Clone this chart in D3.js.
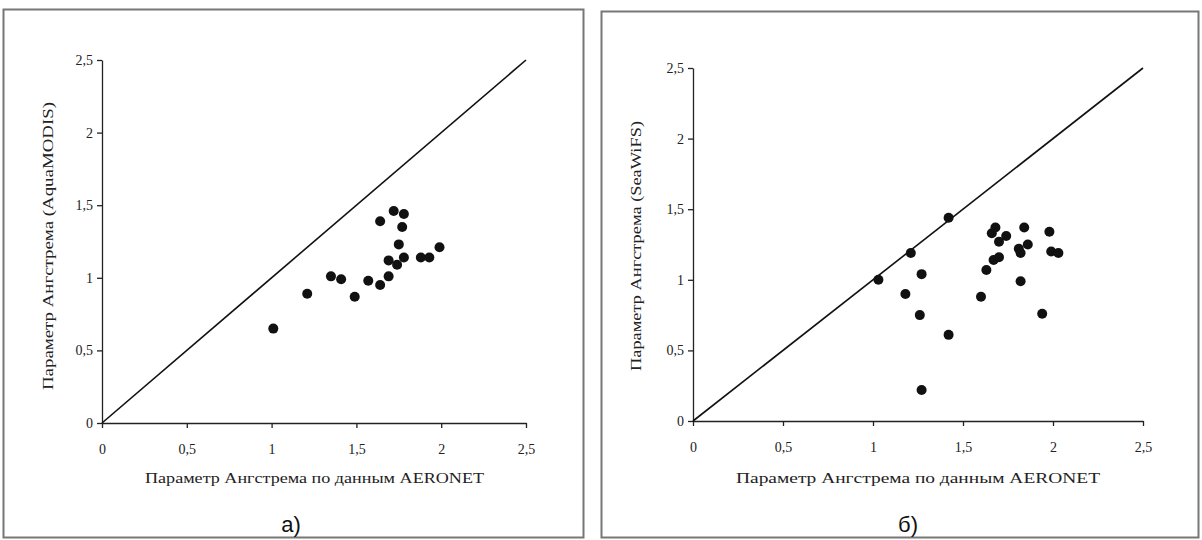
<!DOCTYPE html>
<html lang="en">
	<head>
		<meta charset="utf-8">
		<title></title>
		<script type="text/javascript" src="https://d3js.org/d3.v7.min.js"></script>
		<style type="text/css">
			body { margin: 0; background: #fff; }
			.axis path, .axis line { stroke: #222; stroke-width: 1.3; }
			.axis text { font-family: "Liberation Serif", serif; font-size: 14px; fill: #222; }
		</style>
	</head>
	<body>
		<script type="text/javascript">

			//Width and height
			var w = 1202;
			var h = 540;

			//Tick values shared by both panels
			var tickValues = [0, 0.5, 1, 1.5, 2, 2.5];

			//a) AERONET vs AquaMODIS
			var aquaX = [1.01, 1.21, 1.35, 1.41, 1.49, 1.57, 1.64, 1.69, 1.64, 1.72, 1.78, 1.77, 1.75, 1.69, 1.74, 1.78, 1.88, 1.93, 1.99];
			var aquaY = [0.65, 0.89, 1.01, 0.99, 0.87, 0.98, 0.95, 1.01, 1.39, 1.46, 1.44, 1.35, 1.23, 1.12, 1.09, 1.14, 1.14, 1.14, 1.21];

			//б) AERONET vs SeaWiFS
			var seaX = [1.03, 1.21, 1.42, 1.18, 1.27, 1.26, 1.27, 1.42, 1.60, 1.63, 1.66, 1.68, 1.67, 1.70, 1.70, 1.74, 1.84, 1.81, 1.82, 1.86, 1.82, 1.94, 1.98, 1.99, 2.03];
			var seaY = [1.00, 1.19, 1.44, 0.90, 1.04, 0.75, 0.22, 0.61, 0.88, 1.07, 1.33, 1.37, 1.14, 1.16, 1.27, 1.31, 1.37, 1.22, 1.19, 1.25, 0.99, 0.76, 1.34, 1.20, 1.19];

			var xTitle = "Параметр Ангстрема по данным AERONET";
			var yTitles = ["Параметр Ангстрема (AquaMODIS)", "Параметр Ангстрема (SeaWiFS)"];
			var letters = ["а)", "б)"];

			var fmt = function(d) { return String(d).replace(".", ","); };

			let svg = d3.select("body")
						.append("svg")
						.attr("width", w)
						.attr("height", h);

			svg.append("rect").attr("width", w).attr("height", h).attr("fill", "#fff");

			//layout of each panel (pixels)
			var panels = [
				{ box: [3.5, 9.5, 580, 528], x0: 102, x1: 526, y0: 423, y1: 60,
				  xs: aquaX, ys: aquaY, xt: [145, 484, 478], yt: [48, 246, 288], lt: [291, 532] },
				{ box: [601.5, 11.5, 597, 526], x0: 693, x1: 1143, y0: 421, y1: 68,
				  xs: seaX, ys: seaY, xt: [736, 1100, 478], yt: [636, 246, 250], lt: [908, 532] }
			];

			panels.forEach(function(p, i) {
				drawPanel(p, i);
			});

			function drawPanel(p, i) {
				svg.append("rect")
					.attr("x", p.box[0])
					.attr("y", p.box[1])
					.attr("width", p.box[2])
					.attr("height", p.box[3])
					.attr("fill", "none")
					.attr("stroke", "#777")
					.attr("stroke-width", 2);

				var xScale = d3.scaleLinear().domain([0, 2.5]).range([p.x0, p.x1]);
				var yScale = d3.scaleLinear().domain([0, 2.5]).range([p.y0, p.y1]);

				var xAxis = d3.axisBottom(xScale)
								.tickValues(tickValues)
								.tickFormat(fmt)
								.tickSizeInner(5)
								.tickSizeOuter(0)
								.tickPadding(16);

				var yAxis = d3.axisLeft(yScale)
								.tickValues(tickValues)
								.tickFormat(fmt)
								.tickSizeInner(5)
								.tickSizeOuter(0)
								.tickPadding(4);

				svg.append("g")
					.attr("class", "axis")
					.attr("transform", "translate(0," + p.y0 + ")")
					.call(xAxis);

				svg.append("g")
					.attr("class", "axis")
					.attr("transform", "translate(" + p.x0 + ",0)")
					.call(yAxis);

				//1:1 line
				svg.append("line")
					.attr("x1", xScale(0))
					.attr("y1", yScale(0))
					.attr("x2", xScale(2.5))
					.attr("y2", yScale(2.5))
					.attr("stroke", "#111")
					.attr("stroke-width", 1.6);

				var pts = p.xs.map(function(d, k) { return { x: d, y: p.ys[k] }; });

				svg.append("g")
					.selectAll("circle")
					.data(pts)
					.enter()
					.append("circle")
					.attr("cx", function(d) { return xScale(d.x); })
					.attr("cy", function(d) { return yScale(d.y); })
					.attr("r", 5)
					.attr("fill", "#111");

				svg.append("text")
					.attr("x", p.xt[0])
					.attr("y", p.xt[2] + 5)
					.attr("textLength", p.xt[1] - p.xt[0])
					.attr("lengthAdjust", "spacingAndGlyphs")
					.style("font-family", "Liberation Serif, serif")
					.style("font-size", "14px")
					.style("fill", "#222")
					.text(xTitle);

				svg.append("text")
					.attr("transform", "translate(" + (p.yt[0] + 5) + "," + p.yt[1] + ") rotate(-90)")
					.attr("x", -p.yt[2] / 2)
					.attr("textLength", p.yt[2])
					.attr("lengthAdjust", "spacingAndGlyphs")
					.style("font-family", "Liberation Serif, serif")
					.style("font-size", "14px")
					.style("fill", "#222")
					.text(yTitles[i]);

				svg.append("text")
					.attr("x", p.lt[0])
					.attr("y", p.lt[1])
					.attr("text-anchor", "middle")
					.style("font-family", "Liberation Sans, sans-serif")
					.style("font-size", "22px")
					.style("fill", "#111")
					.text(letters[i]);
			}

		</script>
	</body>
</html>
